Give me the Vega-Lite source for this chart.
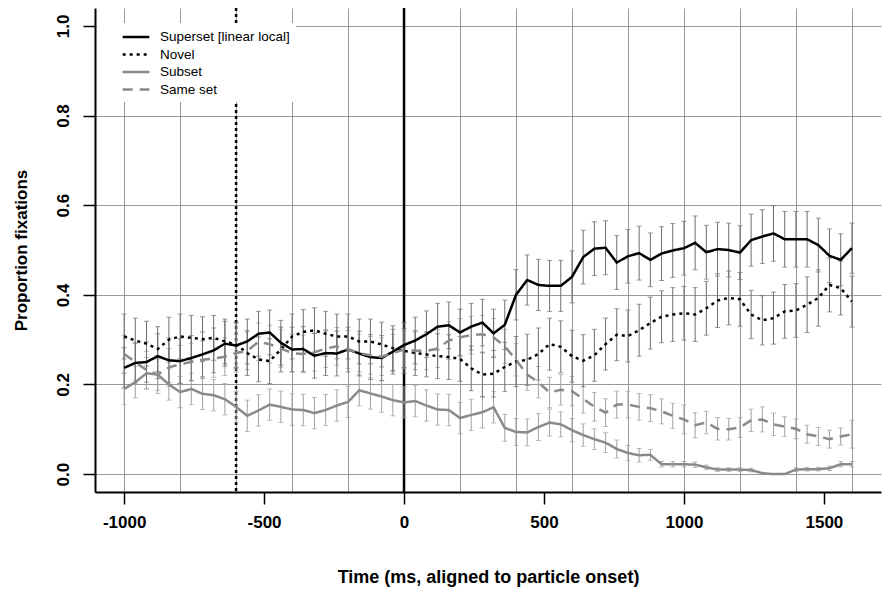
{
  "$schema": "https://vega.github.io/schema/vega-lite/v6.json",
  "autosize": "none",
  "width": 786,
  "height": 484,
  "padding": {"left": 95, "top": 8, "right": 4, "bottom": 97},
  "background": "white",
  "config": {
    "view": {"stroke": null},
    "font": "Liberation Sans",
    "legend": {
      "orient": "none", "legendX": 2, "legendY": 15, "fillColor": "white", "padding": 6,
      "labelFont": "Liberation Sans", "labelFontSize": 13.5, "labelColor": "black",
      "symbolType": "M-2,0H2", "symbolSize": 178, "symbolStrokeWidth": 2.5,
      "symbolOffset": 25, "labelOffset": 16, "rowPadding": 2.5
    }
  },
  "datasets": {
    "d": [
      {"t":-1000,"g":"Superset [linear local]","p":0.237,"e":0.045},
      {"t":-960,"g":"Superset [linear local]","p":0.248,"e":0.045},
      {"t":-920,"g":"Superset [linear local]","p":0.25,"e":0.045},
      {"t":-880,"g":"Superset [linear local]","p":0.263,"e":0.05},
      {"t":-840,"g":"Superset [linear local]","p":0.254,"e":0.05},
      {"t":-800,"g":"Superset [linear local]","p":0.252,"e":0.05},
      {"t":-760,"g":"Superset [linear local]","p":0.259,"e":0.05},
      {"t":-720,"g":"Superset [linear local]","p":0.267,"e":0.05},
      {"t":-680,"g":"Superset [linear local]","p":0.276,"e":0.05},
      {"t":-640,"g":"Superset [linear local]","p":0.291,"e":0.05},
      {"t":-600,"g":"Superset [linear local]","p":0.287,"e":0.05},
      {"t":-560,"g":"Superset [linear local]","p":0.296,"e":0.05},
      {"t":-520,"g":"Superset [linear local]","p":0.313,"e":0.05},
      {"t":-480,"g":"Superset [linear local]","p":0.316,"e":0.05},
      {"t":-440,"g":"Superset [linear local]","p":0.293,"e":0.05},
      {"t":-400,"g":"Superset [linear local]","p":0.278,"e":0.05},
      {"t":-360,"g":"Superset [linear local]","p":0.279,"e":0.05},
      {"t":-320,"g":"Superset [linear local]","p":0.264,"e":0.05},
      {"t":-280,"g":"Superset [linear local]","p":0.27,"e":0.05},
      {"t":-240,"g":"Superset [linear local]","p":0.269,"e":0.05},
      {"t":-200,"g":"Superset [linear local]","p":0.278,"e":0.05},
      {"t":-160,"g":"Superset [linear local]","p":0.269,"e":0.05},
      {"t":-120,"g":"Superset [linear local]","p":0.261,"e":0.05},
      {"t":-80,"g":"Superset [linear local]","p":0.259,"e":0.05},
      {"t":-40,"g":"Superset [linear local]","p":0.273,"e":0.05},
      {"t":0,"g":"Superset [linear local]","p":0.288,"e":0.05},
      {"t":40,"g":"Superset [linear local]","p":0.298,"e":0.052},
      {"t":80,"g":"Superset [linear local]","p":0.312,"e":0.052},
      {"t":120,"g":"Superset [linear local]","p":0.329,"e":0.052},
      {"t":160,"g":"Superset [linear local]","p":0.332,"e":0.052},
      {"t":200,"g":"Superset [linear local]","p":0.316,"e":0.052},
      {"t":240,"g":"Superset [linear local]","p":0.329,"e":0.052},
      {"t":280,"g":"Superset [linear local]","p":0.338,"e":0.052},
      {"t":320,"g":"Superset [linear local]","p":0.314,"e":0.054},
      {"t":360,"g":"Superset [linear local]","p":0.333,"e":0.055},
      {"t":400,"g":"Superset [linear local]","p":0.4,"e":0.056},
      {"t":440,"g":"Superset [linear local]","p":0.433,"e":0.056},
      {"t":480,"g":"Superset [linear local]","p":0.422,"e":0.057},
      {"t":520,"g":"Superset [linear local]","p":0.42,"e":0.057},
      {"t":560,"g":"Superset [linear local]","p":0.42,"e":0.057},
      {"t":600,"g":"Superset [linear local]","p":0.44,"e":0.058},
      {"t":640,"g":"Superset [linear local]","p":0.484,"e":0.06},
      {"t":680,"g":"Superset [linear local]","p":0.503,"e":0.06},
      {"t":720,"g":"Superset [linear local]","p":0.505,"e":0.06},
      {"t":760,"g":"Superset [linear local]","p":0.472,"e":0.06},
      {"t":800,"g":"Superset [linear local]","p":0.486,"e":0.06},
      {"t":840,"g":"Superset [linear local]","p":0.493,"e":0.06},
      {"t":880,"g":"Superset [linear local]","p":0.478,"e":0.06},
      {"t":920,"g":"Superset [linear local]","p":0.492,"e":0.06},
      {"t":960,"g":"Superset [linear local]","p":0.499,"e":0.06},
      {"t":1000,"g":"Superset [linear local]","p":0.504,"e":0.06},
      {"t":1040,"g":"Superset [linear local]","p":0.516,"e":0.06},
      {"t":1080,"g":"Superset [linear local]","p":0.495,"e":0.06},
      {"t":1120,"g":"Superset [linear local]","p":0.502,"e":0.06},
      {"t":1160,"g":"Superset [linear local]","p":0.5,"e":0.06},
      {"t":1200,"g":"Superset [linear local]","p":0.494,"e":0.06},
      {"t":1240,"g":"Superset [linear local]","p":0.522,"e":0.058},
      {"t":1280,"g":"Superset [linear local]","p":0.53,"e":0.06},
      {"t":1320,"g":"Superset [linear local]","p":0.537,"e":0.062},
      {"t":1360,"g":"Superset [linear local]","p":0.524,"e":0.062},
      {"t":1400,"g":"Superset [linear local]","p":0.524,"e":0.062},
      {"t":1440,"g":"Superset [linear local]","p":0.524,"e":0.062},
      {"t":1480,"g":"Superset [linear local]","p":0.511,"e":0.06},
      {"t":1520,"g":"Superset [linear local]","p":0.487,"e":0.06},
      {"t":1560,"g":"Superset [linear local]","p":0.478,"e":0.058},
      {"t":1600,"g":"Superset [linear local]","p":0.504,"e":0.056},

      {"t":-1000,"g":"Novel","p":0.307,"e":0.05},
      {"t":-960,"g":"Novel","p":0.298,"e":0.05},
      {"t":-920,"g":"Novel","p":0.291,"e":0.05},
      {"t":-880,"g":"Novel","p":0.279,"e":0.05},
      {"t":-840,"g":"Novel","p":0.3,"e":0.05},
      {"t":-800,"g":"Novel","p":0.307,"e":0.05},
      {"t":-760,"g":"Novel","p":0.304,"e":0.05},
      {"t":-720,"g":"Novel","p":0.301,"e":0.05},
      {"t":-680,"g":"Novel","p":0.304,"e":0.05},
      {"t":-640,"g":"Novel","p":0.296,"e":0.05},
      {"t":-600,"g":"Novel","p":0.289,"e":0.05},
      {"t":-560,"g":"Novel","p":0.27,"e":0.05},
      {"t":-520,"g":"Novel","p":0.256,"e":0.05},
      {"t":-480,"g":"Novel","p":0.252,"e":0.05},
      {"t":-440,"g":"Novel","p":0.278,"e":0.05},
      {"t":-400,"g":"Novel","p":0.307,"e":0.05},
      {"t":-360,"g":"Novel","p":0.317,"e":0.05},
      {"t":-320,"g":"Novel","p":0.321,"e":0.05},
      {"t":-280,"g":"Novel","p":0.313,"e":0.05},
      {"t":-240,"g":"Novel","p":0.307,"e":0.05},
      {"t":-200,"g":"Novel","p":0.307,"e":0.05},
      {"t":-160,"g":"Novel","p":0.296,"e":0.05},
      {"t":-120,"g":"Novel","p":0.296,"e":0.05},
      {"t":-80,"g":"Novel","p":0.289,"e":0.05},
      {"t":-40,"g":"Novel","p":0.281,"e":0.05},
      {"t":0,"g":"Novel","p":0.275,"e":0.05},
      {"t":40,"g":"Novel","p":0.27,"e":0.05},
      {"t":80,"g":"Novel","p":0.267,"e":0.05},
      {"t":120,"g":"Novel","p":0.263,"e":0.05},
      {"t":160,"g":"Novel","p":0.261,"e":0.05},
      {"t":200,"g":"Novel","p":0.257,"e":0.05},
      {"t":240,"g":"Novel","p":0.236,"e":0.05},
      {"t":280,"g":"Novel","p":0.222,"e":0.05},
      {"t":320,"g":"Novel","p":0.224,"e":0.052},
      {"t":360,"g":"Novel","p":0.239,"e":0.055},
      {"t":400,"g":"Novel","p":0.251,"e":0.056},
      {"t":440,"g":"Novel","p":0.255,"e":0.057},
      {"t":480,"g":"Novel","p":0.268,"e":0.058},
      {"t":520,"g":"Novel","p":0.29,"e":0.058},
      {"t":560,"g":"Novel","p":0.284,"e":0.058},
      {"t":600,"g":"Novel","p":0.263,"e":0.058},
      {"t":640,"g":"Novel","p":0.253,"e":0.058},
      {"t":680,"g":"Novel","p":0.265,"e":0.058},
      {"t":720,"g":"Novel","p":0.29,"e":0.058},
      {"t":760,"g":"Novel","p":0.311,"e":0.058},
      {"t":800,"g":"Novel","p":0.308,"e":0.058},
      {"t":840,"g":"Novel","p":0.321,"e":0.058},
      {"t":880,"g":"Novel","p":0.337,"e":0.058},
      {"t":920,"g":"Novel","p":0.351,"e":0.058},
      {"t":960,"g":"Novel","p":0.356,"e":0.06},
      {"t":1000,"g":"Novel","p":0.359,"e":0.06},
      {"t":1040,"g":"Novel","p":0.356,"e":0.06},
      {"t":1080,"g":"Novel","p":0.37,"e":0.06},
      {"t":1120,"g":"Novel","p":0.387,"e":0.06},
      {"t":1160,"g":"Novel","p":0.393,"e":0.06},
      {"t":1200,"g":"Novel","p":0.39,"e":0.06},
      {"t":1240,"g":"Novel","p":0.356,"e":0.054},
      {"t":1280,"g":"Novel","p":0.343,"e":0.055},
      {"t":1320,"g":"Novel","p":0.348,"e":0.058},
      {"t":1360,"g":"Novel","p":0.363,"e":0.06},
      {"t":1400,"g":"Novel","p":0.365,"e":0.06},
      {"t":1440,"g":"Novel","p":0.378,"e":0.062},
      {"t":1480,"g":"Novel","p":0.393,"e":0.063},
      {"t":1520,"g":"Novel","p":0.422,"e":0.06},
      {"t":1560,"g":"Novel","p":0.415,"e":0.06},
      {"t":1600,"g":"Novel","p":0.385,"e":0.057},

      {"t":-1000,"g":"Subset","p":0.19,"e":0.035},
      {"t":-960,"g":"Subset","p":0.205,"e":0.035},
      {"t":-920,"g":"Subset","p":0.225,"e":0.035},
      {"t":-880,"g":"Subset","p":0.222,"e":0.035},
      {"t":-840,"g":"Subset","p":0.2,"e":0.035},
      {"t":-800,"g":"Subset","p":0.183,"e":0.035},
      {"t":-760,"g":"Subset","p":0.19,"e":0.035},
      {"t":-720,"g":"Subset","p":0.179,"e":0.035},
      {"t":-680,"g":"Subset","p":0.176,"e":0.035},
      {"t":-640,"g":"Subset","p":0.167,"e":0.035},
      {"t":-600,"g":"Subset","p":0.15,"e":0.035},
      {"t":-560,"g":"Subset","p":0.13,"e":0.035},
      {"t":-520,"g":"Subset","p":0.142,"e":0.035},
      {"t":-480,"g":"Subset","p":0.155,"e":0.035},
      {"t":-440,"g":"Subset","p":0.15,"e":0.035},
      {"t":-400,"g":"Subset","p":0.144,"e":0.035},
      {"t":-360,"g":"Subset","p":0.143,"e":0.035},
      {"t":-320,"g":"Subset","p":0.136,"e":0.035},
      {"t":-280,"g":"Subset","p":0.143,"e":0.035},
      {"t":-240,"g":"Subset","p":0.153,"e":0.035},
      {"t":-200,"g":"Subset","p":0.161,"e":0.035},
      {"t":-160,"g":"Subset","p":0.187,"e":0.035},
      {"t":-120,"g":"Subset","p":0.18,"e":0.035},
      {"t":-80,"g":"Subset","p":0.173,"e":0.035},
      {"t":-40,"g":"Subset","p":0.165,"e":0.035},
      {"t":0,"g":"Subset","p":0.16,"e":0.035},
      {"t":40,"g":"Subset","p":0.163,"e":0.035},
      {"t":80,"g":"Subset","p":0.153,"e":0.035},
      {"t":120,"g":"Subset","p":0.144,"e":0.035},
      {"t":160,"g":"Subset","p":0.143,"e":0.035},
      {"t":200,"g":"Subset","p":0.125,"e":0.035},
      {"t":240,"g":"Subset","p":0.132,"e":0.035},
      {"t":280,"g":"Subset","p":0.138,"e":0.035},
      {"t":320,"g":"Subset","p":0.149,"e":0.035},
      {"t":360,"g":"Subset","p":0.103,"e":0.03},
      {"t":400,"g":"Subset","p":0.094,"e":0.03},
      {"t":440,"g":"Subset","p":0.093,"e":0.03},
      {"t":480,"g":"Subset","p":0.105,"e":0.03},
      {"t":520,"g":"Subset","p":0.115,"e":0.03},
      {"t":560,"g":"Subset","p":0.111,"e":0.028},
      {"t":600,"g":"Subset","p":0.098,"e":0.026},
      {"t":640,"g":"Subset","p":0.087,"e":0.025},
      {"t":680,"g":"Subset","p":0.078,"e":0.023},
      {"t":720,"g":"Subset","p":0.07,"e":0.022},
      {"t":760,"g":"Subset","p":0.056,"e":0.02},
      {"t":800,"g":"Subset","p":0.047,"e":0.017},
      {"t":840,"g":"Subset","p":0.042,"e":0.015},
      {"t":880,"g":"Subset","p":0.043,"e":0.012},
      {"t":920,"g":"Subset","p":0.022,"e":0.006},
      {"t":960,"g":"Subset","p":0.022,"e":0.006},
      {"t":1000,"g":"Subset","p":0.022,"e":0.006},
      {"t":1040,"g":"Subset","p":0.021,"e":0.006},
      {"t":1080,"g":"Subset","p":0.015,"e":0.005},
      {"t":1120,"g":"Subset","p":0.01,"e":0.004},
      {"t":1160,"g":"Subset","p":0.01,"e":0.004},
      {"t":1200,"g":"Subset","p":0.01,"e":0.004},
      {"t":1240,"g":"Subset","p":0.009,"e":0.004},
      {"t":1280,"g":"Subset","p":0.002,"e":0.002},
      {"t":1320,"g":"Subset","p":0.0,"e":0.0},
      {"t":1360,"g":"Subset","p":0.0,"e":0.0},
      {"t":1400,"g":"Subset","p":0.01,"e":0.004},
      {"t":1440,"g":"Subset","p":0.011,"e":0.004},
      {"t":1480,"g":"Subset","p":0.011,"e":0.004},
      {"t":1520,"g":"Subset","p":0.013,"e":0.005},
      {"t":1560,"g":"Subset","p":0.022,"e":0.006},
      {"t":1600,"g":"Subset","p":0.022,"e":0.006},

      {"t":-1000,"g":"Same set","p":0.268,"e":0.042},
      {"t":-960,"g":"Same set","p":0.25,"e":0.042},
      {"t":-920,"g":"Same set","p":0.232,"e":0.042},
      {"t":-880,"g":"Same set","p":0.222,"e":0.042},
      {"t":-840,"g":"Same set","p":0.238,"e":0.042},
      {"t":-800,"g":"Same set","p":0.245,"e":0.042},
      {"t":-760,"g":"Same set","p":0.25,"e":0.042},
      {"t":-720,"g":"Same set","p":0.255,"e":0.042},
      {"t":-680,"g":"Same set","p":0.258,"e":0.042},
      {"t":-640,"g":"Same set","p":0.262,"e":0.042},
      {"t":-600,"g":"Same set","p":0.27,"e":0.042},
      {"t":-560,"g":"Same set","p":0.275,"e":0.042},
      {"t":-520,"g":"Same set","p":0.295,"e":0.042},
      {"t":-480,"g":"Same set","p":0.29,"e":0.042},
      {"t":-440,"g":"Same set","p":0.28,"e":0.042},
      {"t":-400,"g":"Same set","p":0.27,"e":0.042},
      {"t":-360,"g":"Same set","p":0.268,"e":0.042},
      {"t":-320,"g":"Same set","p":0.272,"e":0.042},
      {"t":-280,"g":"Same set","p":0.28,"e":0.042},
      {"t":-240,"g":"Same set","p":0.285,"e":0.042},
      {"t":-200,"g":"Same set","p":0.278,"e":0.042},
      {"t":-160,"g":"Same set","p":0.27,"e":0.042},
      {"t":-120,"g":"Same set","p":0.265,"e":0.042},
      {"t":-80,"g":"Same set","p":0.262,"e":0.042},
      {"t":-40,"g":"Same set","p":0.27,"e":0.042},
      {"t":0,"g":"Same set","p":0.278,"e":0.042},
      {"t":40,"g":"Same set","p":0.275,"e":0.042},
      {"t":80,"g":"Same set","p":0.275,"e":0.042},
      {"t":120,"g":"Same set","p":0.28,"e":0.042},
      {"t":160,"g":"Same set","p":0.298,"e":0.042},
      {"t":200,"g":"Same set","p":0.305,"e":0.042},
      {"t":240,"g":"Same set","p":0.31,"e":0.042},
      {"t":280,"g":"Same set","p":0.312,"e":0.042},
      {"t":320,"g":"Same set","p":0.305,"e":0.042},
      {"t":360,"g":"Same set","p":0.285,"e":0.038},
      {"t":400,"g":"Same set","p":0.255,"e":0.036},
      {"t":440,"g":"Same set","p":0.222,"e":0.035},
      {"t":480,"g":"Same set","p":0.205,"e":0.035},
      {"t":520,"g":"Same set","p":0.182,"e":0.034},
      {"t":560,"g":"Same set","p":0.188,"e":0.034},
      {"t":600,"g":"Same set","p":0.185,"e":0.033},
      {"t":640,"g":"Same set","p":0.168,"e":0.032},
      {"t":680,"g":"Same set","p":0.15,"e":0.032},
      {"t":720,"g":"Same set","p":0.137,"e":0.031},
      {"t":760,"g":"Same set","p":0.155,"e":0.03},
      {"t":800,"g":"Same set","p":0.155,"e":0.03},
      {"t":840,"g":"Same set","p":0.15,"e":0.03},
      {"t":880,"g":"Same set","p":0.147,"e":0.03},
      {"t":920,"g":"Same set","p":0.14,"e":0.028},
      {"t":960,"g":"Same set","p":0.13,"e":0.028},
      {"t":1000,"g":"Same set","p":0.122,"e":0.032},
      {"t":1040,"g":"Same set","p":0.109,"e":0.028},
      {"t":1080,"g":"Same set","p":0.115,"e":0.025},
      {"t":1120,"g":"Same set","p":0.101,"e":0.025},
      {"t":1160,"g":"Same set","p":0.1,"e":0.024},
      {"t":1200,"g":"Same set","p":0.104,"e":0.022},
      {"t":1240,"g":"Same set","p":0.12,"e":0.025},
      {"t":1280,"g":"Same set","p":0.122,"e":0.028},
      {"t":1320,"g":"Same set","p":0.111,"e":0.025},
      {"t":1360,"g":"Same set","p":0.106,"e":0.022},
      {"t":1400,"g":"Same set","p":0.101,"e":0.022},
      {"t":1440,"g":"Same set","p":0.089,"e":0.02},
      {"t":1480,"g":"Same set","p":0.084,"e":0.02},
      {"t":1520,"g":"Same set","p":0.078,"e":0.02},
      {"t":1560,"g":"Same set","p":0.084,"e":0.019},
      {"t":1600,"g":"Same set","p":0.089,"e":0.031}
    ]
  },
  "layer": [
    {
      "data": {"values": [{}]},
      "mark": {"type": "rule", "color": "black", "strokeWidth": 2.5, "strokeDash": [3, 3]},
      "encoding": {
        "x": {
          "datum": -600, "type": "quantitative",
          "scale": {"domain": [-1104, 1704], "nice": false, "zero": false},
          "axis": {
            "title": "Time (ms, aligned to particle onset)",
            "values": [-1000, -800, -600, -500, -400, -200, 0, 200, 400, 500, 600, 800, 1000, 1200, 1400, 1500, 1600],
            "labelExpr": "datum.value % 500 === 0 ? '' + datum.value : ''",
            "labelOverlap": false, "labelFlush": false,
            "grid": true, "gridColor": "#999999", "gridWidth": 1,
            "gridOpacity": {"condition": {"test": "datum.value % 200 === 0", "value": 1}, "value": 0},
            "tickOpacity": {"condition": {"test": "datum.value % 500 === 0", "value": 1}, "value": 0},
            "tickSize": 12, "tickWidth": 1.5, "tickColor": "black",
            "domainColor": "black", "domainWidth": 2,
            "labelFont": "Liberation Sans", "labelFontSize": 17, "labelFontWeight": "bold", "labelColor": "black", "labelPadding": 10,
            "titleFont": "Liberation Sans", "titleFontSize": 18, "titleFontWeight": "bold", "titleColor": "black", "titlePadding": 38
          }
        }
      }
    },
    {
      "data": {"values": [{}]},
      "mark": {"type": "rule", "color": "black", "strokeWidth": 2.5},
      "encoding": {"x": {"datum": 0, "type": "quantitative"}}
    },
    {
      "data": {"name": "d"},
      "transform": [{"filter": "datum.g === 'Subset' || datum.g === 'Same set'"}],
      "mark": {"type": "errorbar", "color": "#a0a0a0", "thickness": 1, "ticks": {"size": 5, "color": "#a0a0a0"}},
      "encoding": {
        "x": {"field": "t", "type": "quantitative"},
        "y": {"field": "p", "type": "quantitative", "title": "Proportion fixations"},
        "yError": {"field": "e"}
      }
    },
    {
      "data": {"name": "d"},
      "transform": [{"filter": "datum.g === 'Superset [linear local]' || datum.g === 'Novel'"}],
      "mark": {"type": "errorbar", "color": "#6e6e6e", "thickness": 1, "ticks": {"size": 5, "color": "#6e6e6e"}},
      "encoding": {
        "x": {"field": "t", "type": "quantitative"},
        "y": {"field": "p", "type": "quantitative", "title": "Proportion fixations"},
        "yError": {"field": "e"}
      }
    },
    {
      "data": {"name": "d"},
      "mark": {"type": "line", "strokeWidth": 2.5},
      "encoding": {
        "x": {"field": "t", "type": "quantitative"},
        "y": {
          "field": "p", "type": "quantitative",
          "scale": {"domain": [-0.04, 1.04], "nice": false, "zero": false},
          "axis": {
            "title": "Proportion fixations",
            "values": [0, 0.2, 0.4, 0.6, 0.8, 1.0], "format": ".1f",
            "grid": true, "gridColor": "#999999", "gridWidth": 1,
            "tickSize": 12, "tickWidth": 1.5, "tickColor": "black",
            "domainColor": "black", "domainWidth": 2,
            "labelAngle": 270, "labelAlign": "center", "labelBaseline": "alphabetic",
            "labelFont": "Liberation Sans", "labelFontSize": 17, "labelFontWeight": "bold", "labelColor": "black", "labelPadding": 15,
            "titleFont": "Liberation Sans", "titleFontSize": 17, "titleFontWeight": "bold", "titleColor": "black", "titlePadding": 24
          }
        },
        "color": {
          "field": "g", "type": "nominal", "title": null,
          "scale": {"domain": ["Superset [linear local]", "Novel", "Subset", "Same set"], "range": ["#000000", "#000000", "#8a8a8a", "#8a8a8a"]}
        },
        "strokeDash": {
          "field": "g", "type": "nominal", "title": null,
          "scale": {"domain": ["Superset [linear local]", "Novel", "Subset", "Same set"], "range": [[1, 0], [3, 4], [1, 0], [10, 7]]}
        }
      }
    }
  ]
}
